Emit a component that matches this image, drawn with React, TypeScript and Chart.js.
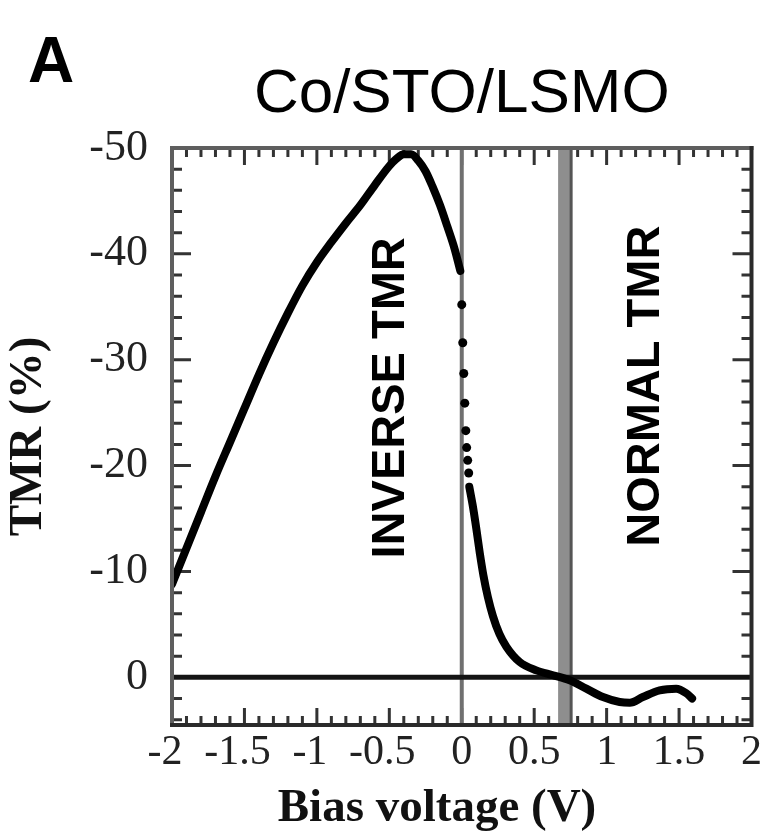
import React, { useEffect, useRef } from 'react';
import { Chart, registerables } from 'chart.js';

Chart.register(...registerables);

// ---- axis ticks ----
const xTickValues = [-2, -1.5, -1, -0.5, 0, 0.5, 1, 1.5, 2];
const xTickLabels = ['-2', '-1.5', '-1', '-0.5', '0', '0.5', '1', '1.5', '2'];
const yTickValues = [-50, -40, -30, -20, -10, 0];
const yTickLabels = ['-50', '-40', '-30', '-20', '-10', '0'];
const xMin = -2;
const xMax = 2;
const yMin = -50;
const yMax = 4.5;

// ---- measured curve (Bias voltage V, TMR %) ----
const inverseBiasV = [-2.0, -1.9, -1.8, -1.7, -1.6, -1.5, -1.4, -1.3, -1.2, -1.1, -1.0, -0.9, -0.8, -0.7, -0.6, -0.5, -0.45, -0.4, -0.35, -0.3, -0.25, -0.2, -0.15, -0.1, -0.05, -0.01];
const inverseTMR = [-8.8, -12.2, -15.6, -19.0, -22.2, -25.4, -28.6, -31.6, -34.4, -37.0, -39.2, -41.1, -42.9, -44.6, -46.5, -48.3, -49.0, -49.4, -49.4, -48.8, -47.8, -46.3, -44.6, -42.6, -40.5, -38.4];

const steepBiasV = [0.0, 0.007, 0.014, 0.021, 0.028, 0.034, 0.041, 0.048];
const steepTMR = [-35.2, -31.6, -28.7, -25.9, -23.3, -21.7, -20.5, -19.3];

const normalBiasV = [0.052, 0.075, 0.1, 0.125, 0.15, 0.18, 0.215, 0.26, 0.308, 0.4, 0.515, 0.63, 0.745, 0.86, 0.975, 1.09, 1.16, 1.25, 1.366, 1.48, 1.55, 1.59];
const normalTMR = [-18.0, -16.3, -14.1, -11.7, -9.6, -7.6, -5.8, -4.1, -2.9, -1.45, -0.66, -0.2, 0.28, 1.07, 1.86, 2.33, 2.4, 1.86, 1.23, 1.07, 1.5, 2.0];

// ---- reference lines ----
const zeroBiasV = 0;
const zeroTMR = 0;
const separatorBiasV = 0.71;
const separatorEdgeBiasV = 0.755;

const toPoints = (xs: number[], ys: number[]) => xs.map((x, i) => ({ x, y: ys[i] }));

const decorPlugin = {
  id: 'decor',
  beforeDatasetsDraw(chart: any) {
    const { ctx, chartArea, scales } = chart;
    const xs = scales.x;
    const ys = scales.y;
    ctx.save();
    ctx.strokeStyle = '#333';
    ctx.lineWidth = 3;
    ctx.lineCap = 'butt';
    // x ticks (inward, top and bottom)
    for (let i = -20; i <= 20; i++) {
      const v = i / 10;
      const major = i % 5 === 0;
      const len = major ? 17 : 9;
      const px = xs.getPixelForValue(v);
      ctx.beginPath();
      ctx.moveTo(px, chartArea.bottom);
      ctx.lineTo(px, chartArea.bottom - len);
      ctx.moveTo(px, chartArea.top);
      ctx.lineTo(px, chartArea.top + len);
      ctx.stroke();
    }
    // y ticks (inward, left and right)
    for (let v = -50; v <= 4; v += 2) {
      const major = v % 10 === 0;
      const len = major ? 19 : 10;
      const py = ys.getPixelForValue(v);
      ctx.beginPath();
      ctx.moveTo(chartArea.left, py);
      ctx.lineTo(chartArea.left + len, py);
      ctx.moveTo(chartArea.right, py);
      ctx.lineTo(chartArea.right - len, py);
      ctx.stroke();
    }
    ctx.restore();
  },
  afterDatasetsDraw(chart: any) {
    const { ctx, chartArea } = chart;
    const { left, right, top, bottom } = chartArea;
    ctx.save();
    ctx.lineWidth = 4;
    ctx.lineCap = 'square';
    ctx.strokeStyle = '#5e5e5e';
    ctx.beginPath();
    ctx.moveTo(left, bottom);
    ctx.lineTo(left, top);
    ctx.lineTo(right, top);
    ctx.stroke();
    ctx.strokeStyle = '#2a2a2a';
    ctx.beginPath();
    ctx.moveTo(right, top);
    ctx.lineTo(right, bottom);
    ctx.lineTo(left, bottom);
    ctx.stroke();
    ctx.restore();
  },
  afterDraw(chart: any) {
    const { ctx, scales } = chart;
    const xs = scales.x;
    const ys = scales.y;
    ctx.save();
    ctx.fillStyle = '#000';
    // panel letter
    ctx.font = 'bold 64px "Liberation Sans", Arial, sans-serif';
    ctx.textAlign = 'left';
    ctx.textBaseline = 'alphabetic';
    ctx.fillText('A', 28, 82);
    // x-axis title
    ctx.font = 'bold 47px "Liberation Serif", "Times New Roman", serif';
    ctx.textAlign = 'center';
    ctx.fillStyle = '#111';
    ctx.fillText('Bias voltage (V)', 437, 821);
    // rotated region labels
    const rot = (text: string, vx: number, vy: number) => {
      ctx.save();
      ctx.translate(xs.getPixelForValue(vx), ys.getPixelForValue(vy));
      ctx.rotate(-Math.PI / 2);
      ctx.textAlign = 'center';
      ctx.textBaseline = 'middle';
      ctx.fillText(text, 0, 0);
      ctx.restore();
    };
    ctx.fillStyle = '#000';
    ctx.font = 'bold 47px "Liberation Sans", Arial, sans-serif';
    rot('INVERSE TMR', -0.486, -26.4);
    rot('NORMAL TMR', 1.27, -27.5);
    ctx.restore();
  },
};

export default function App() {
  const canvasRef = useRef<HTMLCanvasElement | null>(null);

  useEffect(() => {
    const canvas = canvasRef.current;
    if (!canvas) return;
    const chart = new Chart(canvas, {
      type: 'scatter',
      data: {
        datasets: [
          {
            data: toPoints(inverseBiasV, inverseTMR),
            showLine: true,
            borderColor: '#000',
            borderWidth: 8,
            pointRadius: 0,
            cubicInterpolationMode: 'monotone',
            borderCapStyle: 'round',
            borderJoinStyle: 'round',
            order: 0,
          },
          {
            data: toPoints(steepBiasV, steepTMR),
            showLine: false,
            pointRadius: 4.5,
            pointBackgroundColor: '#000',
            pointBorderWidth: 0,
            order: 0,
          },
          {
            data: toPoints(normalBiasV, normalTMR),
            showLine: true,
            borderColor: '#000',
            borderWidth: 8,
            pointRadius: 0,
            cubicInterpolationMode: 'monotone',
            borderCapStyle: 'round',
            borderJoinStyle: 'round',
            order: 0,
          },
          {
            data: [{ x: xMin, y: zeroTMR }, { x: xMax, y: zeroTMR }],
            showLine: true,
            borderColor: '#141414',
            borderWidth: 5,
            pointRadius: 0,
            order: 1,
          },
          {
            data: [{ x: zeroBiasV, y: yMin }, { x: zeroBiasV, y: yMax }],
            showLine: true,
            borderColor: '#707070',
            borderWidth: 4,
            pointRadius: 0,
            order: 2,
          },
          {
            data: [{ x: separatorBiasV, y: yMin }, { x: separatorBiasV, y: yMax }],
            showLine: true,
            borderColor: '#8e8e8e',
            borderWidth: 13,
            pointRadius: 0,
            order: 3,
          },
          {
            data: [{ x: separatorEdgeBiasV, y: yMin }, { x: separatorEdgeBiasV, y: yMax }],
            showLine: true,
            borderColor: '#555',
            borderWidth: 3,
            pointRadius: 0,
            order: 2,
          },
        ],
      },
      options: {
        responsive: false,
        animation: false,
        events: [],
        layout: { padding: { left: 0, right: 13, top: 0, bottom: 0 } },
        plugins: {
          legend: { display: false },
          tooltip: { enabled: false },
          title: {
            display: true,
            text: 'Co/STO/LSMO',
            fullSize: false,
            color: '#000',
            font: { family: '"Liberation Sans", Arial, sans-serif', size: 62, weight: 'normal', lineHeight: 1.2 },
            padding: { top: 58, bottom: 15.6 },
          },
        },
        scales: {
          x: {
            type: 'linear',
            min: xMin,
            max: xMax,
            grid: { display: false, drawTicks: false },
            border: { display: false },
            afterBuildTicks: (scale: any) => {
              scale.ticks = xTickValues.map((v) => ({ value: v }));
            },
            afterFit: (scale: any) => {
              scale.height = 110;
            },
            ticks: {
              autoSkip: false,
              maxRotation: 0,
              minRotation: 0,
              padding: 3,
              color: '#222',
              font: { family: '"Liberation Serif", "Times New Roman", serif', size: 42 },
              callback: (_v: any, i: number) => {
                const lbl = xTickLabels[i];
                return lbl.startsWith('-') ? lbl + '\u2004' : lbl;
              },
            },
          },
          y: {
            type: 'linear',
            reverse: true,
            min: yMin,
            max: yMax,
            grid: { display: false, drawTicks: false },
            border: { display: false },
            afterBuildTicks: (scale: any) => {
              scale.ticks = yTickValues.map((v) => ({ value: v }));
            },
            afterFit: (scale: any) => {
              scale.width = 172;
            },
            title: {
              display: true,
              text: 'TMR (%)',
              color: '#111',
              font: { family: '"Liberation Serif", "Times New Roman", serif', size: 47, weight: 'bold', lineHeight: 1.2 },
              padding: { top: 1, bottom: 0 },
            },
            ticks: {
              autoSkip: false,
              padding: 24,
              color: '#222',
              font: { family: '"Liberation Serif", "Times New Roman", serif', size: 44 },
              callback: (_v: any, i: number) => yTickLabels[i],
            },
          },
        },
      },
      plugins: [decorPlugin],
    } as any);
    return () => chart.destroy();
  }, []);

  return (
    <div style={{ position: 'absolute', left: 0, top: 0, width: 765, height: 835, background: '#fff' }}>
      <canvas ref={canvasRef} width={765} height={835} style={{ display: 'block', width: 765, height: 835 }} />
    </div>
  );
}
